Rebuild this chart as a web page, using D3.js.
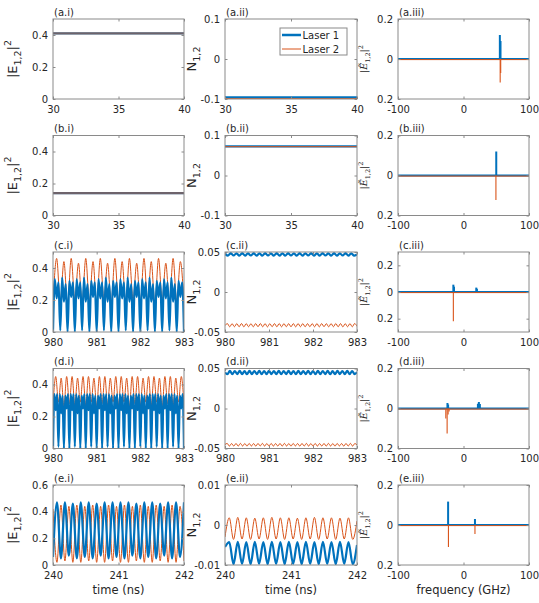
<!DOCTYPE html>
<html>
<head>
<meta charset="utf-8">
<script src="https://cdn.jsdelivr.net/npm/d3@7"></script>
<style>
    body { margin: 0; background: #fff; }
    text { font-family: "DejaVu Sans", sans-serif; fill: #262626; }
</style>
</head>
<body>
<svg id="fig" width="539" height="603"></svg>
<script>
// MATLAB default colours
const BLUE = '#0072BD';
const ORANGE = '#D95319';

// --- time spans (ns) and tick values ---
const tAB = [30, 40];
const tCD = [980, 983];
const tE = [240, 242];
const ticksAB = [30, 35, 40];
const ticksCD = [980, 981, 982, 983];
const ticksE = [240, 241, 242];
const ticksFreq = [-100, 0, 100];

// --- (a) steady state ---
const aI_blue = [0.41, 0.41];
const aI_orange = [0.41, 0.41];
const aII_blue = [-0.096, -0.096];
const aII_orange = [-0.099, -0.099];
// spectra: [frequency GHz, amplitude]
const aIII_blue = [[55.5, 0.12], [56.5, 0.09]];
const aIII_orange = [[56, -0.118], [56.8, -0.07]];

// --- (b) steady state ---
const bI_blue = [0.14, 0.14];
const bI_orange = [0.14, 0.14];
const bII_blue = [0.073, 0.073];
const bII_orange = [0.072, 0.072];
const bIII_blue = [[50, 0.12]];
const bIII_orange = [[49.5, -0.122]];

// --- (c) oscillating, extrema read along 980..983 ns ---
const cI_orange = [
    0.18, 0.46, 0.19, 0.44, 0.17, 0.46, 0.20, 0.43, 0.18, 0.46, 0.19, 0.44,
    0.17, 0.46, 0.20, 0.43, 0.18, 0.46, 0.19, 0.44, 0.17, 0.46, 0.20, 0.43,
    0.18, 0.46, 0.19, 0.44, 0.17, 0.46, 0.20, 0.43, 0.18, 0.46, 0.19, 0.44,
    0.17
];
const cI_blue = [
    0.00, 0.33, 0.21, 0.31, 0.01, 0.34, 0.19, 0.30, 0.00, 0.32, 0.22, 0.31,
    0.00, 0.33, 0.21, 0.31, 0.01, 0.34, 0.19, 0.30, 0.00, 0.32, 0.22, 0.31,
    0.00, 0.33, 0.21, 0.31, 0.01, 0.34, 0.19, 0.30, 0.00, 0.32, 0.22, 0.31,
    0.00, 0.33, 0.21, 0.31, 0.01, 0.34, 0.19, 0.30, 0.00, 0.32, 0.22, 0.31,
    0.00, 0.33, 0.21, 0.31, 0.01, 0.34, 0.19, 0.30, 0.00, 0.32, 0.22, 0.31,
    0.00, 0.33, 0.21, 0.31, 0.01, 0.34, 0.19, 0.30, 0.00, 0.32, 0.22, 0.31,
    0.00
];
const cII_blue = [
    0.0480, 0.0455, 0.0485, 0.0456, 0.0484, 0.0454, 0.0485, 0.0455, 0.0483, 0.0456,
    0.0485, 0.0455, 0.0484, 0.0454, 0.0485, 0.0456, 0.0484, 0.0455, 0.0485, 0.0454,
    0.0483, 0.0455, 0.0485, 0.0456, 0.0484, 0.0455, 0.0485, 0.0454, 0.0484, 0.0456,
    0.0485, 0.0455, 0.0484, 0.0455, 0.0485, 0.0456, 0.0483, 0.0454, 0.0485, 0.0455,
    0.0484, 0.0456, 0.0485, 0.0455, 0.0484, 0.0454, 0.0470
];
const cII_orange = [
    -0.0420, -0.0395, -0.0435, -0.0396, -0.0434, -0.0395, -0.0435, -0.0394, -0.0436, -0.0395,
    -0.0434, -0.0396, -0.0435, -0.0395, -0.0434, -0.0394, -0.0435, -0.0395, -0.0436, -0.0396,
    -0.0434, -0.0395, -0.0435, -0.0394, -0.0435, -0.0395, -0.0434, -0.0396, -0.0435, -0.0395,
    -0.0436, -0.0394, -0.0434, -0.0395, -0.0435, -0.0396, -0.0434, -0.0395, -0.0435, -0.0394,
    -0.0436, -0.0395, -0.0434, -0.0396, -0.0435, -0.0395, -0.0434, -0.0394, -0.0435, -0.0395,
    -0.0436, -0.0396, -0.0434, -0.0395, -0.0435, -0.0394, -0.0430
];
const cIII_blue = [[-15.5, 0.055], [-14.5, 0.04], [19.5, 0.033], [20.5, 0.024]];
const cIII_orange = [[-15.5, -0.22], [19.5, -0.006]];

// --- (d) oscillating ---
const dI_orange = [
    0.27, 0.45, 0.29, 0.44, 0.26, 0.45, 0.28, 0.45, 0.27, 0.44, 0.29, 0.45,
    0.27, 0.45, 0.29, 0.44, 0.26, 0.45, 0.28, 0.45, 0.27, 0.44, 0.29, 0.45,
    0.27, 0.45, 0.29, 0.44, 0.26, 0.45, 0.28, 0.45, 0.27, 0.44, 0.29, 0.45,
    0.27, 0.45, 0.29, 0.44, 0.26, 0.45, 0.28, 0.45, 0.27, 0.44, 0.29, 0.45,
    0.27
];
const dI_blue = [
    0.00, 0.34, 0.24, 0.34, 0.01, 0.34, 0.22, 0.33, 0.00, 0.33, 0.25, 0.34,
    0.00, 0.34, 0.24, 0.34, 0.01, 0.34, 0.22, 0.33, 0.00, 0.33, 0.25, 0.34,
    0.00, 0.34, 0.24, 0.34, 0.01, 0.34, 0.22, 0.33, 0.00, 0.33, 0.25, 0.34,
    0.00, 0.34, 0.24, 0.34, 0.01, 0.34, 0.22, 0.33, 0.00, 0.33, 0.25, 0.34,
    0.00, 0.34, 0.24, 0.34, 0.01, 0.34, 0.22, 0.33, 0.00, 0.33, 0.25, 0.34,
    0.00, 0.34, 0.24, 0.34, 0.01, 0.34, 0.22, 0.33, 0.00, 0.33, 0.25, 0.34,
    0.00, 0.34, 0.24, 0.34, 0.01, 0.34, 0.22, 0.33, 0.00, 0.33, 0.25, 0.34,
    0.00, 0.34, 0.24, 0.34, 0.01, 0.34, 0.22, 0.33, 0.00, 0.33, 0.25, 0.34,
    0.00
];
const dII_blue = [
    0.0450, 0.0429, 0.0470, 0.0428, 0.0469, 0.0430, 0.0470, 0.0429, 0.0468, 0.0428,
    0.0470, 0.0429, 0.0469, 0.0430, 0.0470, 0.0428, 0.0469, 0.0429, 0.0470, 0.0430,
    0.0468, 0.0429, 0.0470, 0.0428, 0.0469, 0.0430, 0.0470, 0.0429, 0.0469, 0.0428,
    0.0470, 0.0429, 0.0468, 0.0430, 0.0470, 0.0429, 0.0469, 0.0428, 0.0470, 0.0429,
    0.0469, 0.0430, 0.0470, 0.0428, 0.0468, 0.0429, 0.0470, 0.0430, 0.0469, 0.0429,
    0.0470, 0.0428, 0.0469, 0.0429, 0.0455
];
const dII_orange = [
    -0.0450, -0.0437, -0.0470, -0.0438, -0.0469, -0.0437, -0.0470, -0.0436, -0.0469, -0.0438,
    -0.0470, -0.0437, -0.0469, -0.0438, -0.0470, -0.0437, -0.0468, -0.0436, -0.0470, -0.0438,
    -0.0469, -0.0437, -0.0470, -0.0438, -0.0469, -0.0437, -0.0470, -0.0436, -0.0469, -0.0438,
    -0.0470, -0.0437, -0.0468, -0.0438, -0.0470, -0.0437, -0.0469, -0.0436, -0.0470, -0.0438,
    -0.0469, -0.0437, -0.0470, -0.0438, -0.0469, -0.0437, -0.0470, -0.0436, -0.0469, -0.0438,
    -0.0470, -0.0437, -0.0468, -0.0438, -0.0470, -0.0437, -0.0469, -0.0436, -0.0470, -0.0438,
    -0.0455
];
const dIII_blue = [[-24.5, 0.027], [-23.5, 0.02], [22, 0.024], [23.5, 0.032], [25, 0.022]];
const dIII_orange = [[-27, -0.05], [-25, -0.125], [-23.5, -0.03], [-22, -0.015]];

// --- (e) oscillating, 240..242 ns ---
const eI_blue = [
    0.06, 0.47, 0.05, 0.47, 0.07, 0.46, 0.05, 0.47, 0.06, 0.47, 0.05, 0.46,
    0.07, 0.47, 0.05, 0.47, 0.06, 0.47, 0.05, 0.47, 0.07, 0.46, 0.05, 0.47,
    0.06, 0.47, 0.05, 0.46, 0.07, 0.47, 0.05, 0.47, 0.06, 0.47
];
const eI_orange = [
    0.42, 0.02, 0.45, 0.03, 0.44, 0.02, 0.45, 0.02, 0.44, 0.03, 0.45, 0.02,
    0.44, 0.02, 0.45, 0.03, 0.44, 0.02, 0.45, 0.02, 0.44, 0.03, 0.45, 0.02,
    0.44, 0.02, 0.45, 0.03, 0.44, 0.02, 0.45, 0.02, 0.44, 0.03
];
const eII_orange = [
    -0.0030, 0.0018, -0.0036, 0.0019, -0.0035, 0.0018, -0.0036, 0.0017, -0.0035, 0.0018,
    -0.0036, 0.0019, -0.0035, 0.0018, -0.0036, 0.0018, -0.0035, 0.0017, -0.0036, 0.0018,
    -0.0035, 0.0019, -0.0036, 0.0018, -0.0035, 0.0018, -0.0036, 0.0017, -0.0035, 0.0018,
    -0.0036, 0.0010
];
const eII_blue = [
    -0.0055, -0.0043, -0.0098, -0.0042, -0.0097, -0.0043, -0.0098, -0.0042, -0.0097, -0.0043,
    -0.0098, -0.0042, -0.0097, -0.0043, -0.0098, -0.0042, -0.0097, -0.0043, -0.0098, -0.0042,
    -0.0097, -0.0043, -0.0098, -0.0042, -0.0097, -0.0043, -0.0098, -0.0042, -0.0097, -0.0043,
    -0.0098, -0.0050
];
const eIII_blue = [[-23.5, 0.117], [17.5, 0.03]];
const eIII_orange = [[-23, -0.11], [17.5, -0.045]];

// --- layout ---
const COL_X = [53, 225, 398];
const COL_W = [131, 132, 131];
const ROW_Y = [19, 135.5, 252, 368.5, 485];
const PH = 80;
const YLABEL_X = [17, 196, 367];
const rowNames = ['a', 'b', 'c', 'd', 'e'];
const colNames = ['i', 'ii', 'iii'];

const panels = [
    { row: 0, col: 0, span: tAB, xTicks: ticksAB, yDom: [0, 0.5], yTicks: [0, 0.2, 0.4], blue: aI_blue, orange: aI_orange, overlap: true },
    { row: 0, col: 1, span: tAB, xTicks: ticksAB, yDom: [-0.1, 0.1], yTicks: [-0.1, 0, 0.1], blue: aII_blue, orange: aII_orange, legend: true },
    { row: 0, col: 2, yDom: [-0.2, 0.2], yTicks: [-0.2, 0, 0.2], sBlue: aIII_blue, sOrange: aIII_orange },
    { row: 1, col: 0, span: tAB, xTicks: ticksAB, yDom: [0, 0.5], yTicks: [0, 0.2, 0.4], blue: bI_blue, orange: bI_orange, overlap: true },
    { row: 1, col: 1, span: tAB, xTicks: ticksAB, yDom: [-0.1, 0.1], yTicks: [-0.1, 0, 0.1], blue: bII_blue, orange: bII_orange },
    { row: 1, col: 2, yDom: [-0.2, 0.2], yTicks: [-0.2, 0, 0.2], sBlue: bIII_blue, sOrange: bIII_orange },
    { row: 2, col: 0, span: tCD, xTicks: ticksCD, yDom: [0, 0.5], yTicks: [0, 0.2, 0.4], blue: cI_blue, orange: cI_orange, orangeFirst: true },
    { row: 2, col: 1, span: tCD, xTicks: ticksCD, yDom: [-0.05, 0.05], yTicks: [-0.05, 0, 0.05], blue: cII_blue, orange: cII_orange },
    { row: 2, col: 2, yDom: [-0.3, 0.3], yTicks: [-0.2, 0, 0.2], sBlue: cIII_blue, sOrange: cIII_orange },
    { row: 3, col: 0, span: tCD, xTicks: ticksCD, yDom: [0, 0.5], yTicks: [0, 0.2, 0.4], blue: dI_blue, orange: dI_orange, orangeFirst: true },
    { row: 3, col: 1, span: tCD, xTicks: ticksCD, yDom: [-0.05, 0.05], yTicks: [-0.05, 0, 0.05], blue: dII_blue, orange: dII_orange },
    { row: 3, col: 2, yDom: [-0.2, 0.2], yTicks: [-0.2, 0, 0.2], sBlue: dIII_blue, sOrange: dIII_orange },
    { row: 4, col: 0, span: tE, xTicks: ticksE, yDom: [0, 0.6], yTicks: [0, 0.2, 0.4, 0.6], blue: eI_blue, orange: eI_orange, orangeFirst: true },
    { row: 4, col: 1, span: tE, xTicks: ticksE, yDom: [-0.01, 0.01], yTicks: [-0.01, 0, 0.01], blue: eII_blue, orange: eII_orange },
    { row: 4, col: 2, yDom: [-0.2, 0.2], yTicks: [-0.2, 0, 0.2], sBlue: eIII_blue, sOrange: eIII_orange }
];

const svg = d3.select('#fig');
const AXIS_GREY = '#8a8a8a';
const TICK_LEN = -2.5;

// evenly sampled series across the time span
function toPoints(values, span) {
    const n = values.length;
    return values.map((v, i) => ({ t: span[0] + (span[1] - span[0]) * i / (n - 1), v: v }));
}

function addYLabel(col, cy) {
    const x = YLABEL_X[col];
    const t = svg.append('text')
        .attr('transform', `translate(${x},${cy}) rotate(-90)`)
        .attr('text-anchor', 'middle');
    if (col === 0) {
        t.attr('font-size', 13);
        t.append('tspan').text('|E');
        t.append('tspan').attr('font-size', 9.5).attr('dy', 4).text('1,2');
        t.append('tspan').attr('dy', -4).text('|');
        t.append('tspan').attr('font-size', 9.5).attr('dy', -6).text('2');
    } else if (col === 1) {
        t.attr('font-size', 13);
        t.append('tspan').text('N');
        t.append('tspan').attr('font-size', 9.5).attr('dy', 4).text('1,2');
    } else {
        t.attr('font-size', 9.5).style('font-family', '"DejaVu Serif", serif');
        t.append('tspan').text('|');
        t.append('tspan').attr('font-style', 'italic').text('Ẽ');
        t.append('tspan').attr('font-size', 6.5).attr('dy', 2.5).text('1,2');
        t.append('tspan').attr('dy', -2.5).text('|');
        t.append('tspan').attr('font-size', 6.5).attr('dy', -4).text('2');
    }
}

panels.forEach((p, i) => {
    const x0 = COL_X[p.col], y0 = ROW_Y[p.row], w = COL_W[p.col];
    const g = svg.append('g').attr('transform', `translate(${x0},${y0})`);
    const xDom = p.col === 2 ? [-100, 100] : p.span;
    const xTicks = p.col === 2 ? ticksFreq : p.xTicks;
    const x = d3.scaleLinear().domain(xDom).range([0, w]);
    const y = d3.scaleLinear().domain(p.yDom).range([PH, 0]);

    const clipId = 'clip' + i;
    g.append('clipPath').attr('id', clipId)
        .append('rect').attr('width', w).attr('height', PH);
    const plot = g.append('g').attr('clip-path', `url(#${clipId})`);

    if (p.col < 2) {
        const line = d3.line().x(d => x(d.t)).y(d => y(d.v)).curve(d3.curveMonotoneX);
        const drawBlue = () => plot.append('path')
            .attr('d', line(toPoints(p.blue, p.span)))
            .attr('fill', 'none').attr('stroke', BLUE).attr('stroke-width', 2.2);
        const drawOrange = () => plot.append('path')
            .attr('d', line(toPoints(p.orange, p.span)))
            .attr('fill', 'none').attr('stroke', ORANGE)
            .attr('stroke-width', p.overlap ? 2.2 : 1)
            .attr('stroke-opacity', p.overlap ? 0.5 : 1);
        if (p.orangeFirst) { drawOrange(); drawBlue(); } else { drawBlue(); drawOrange(); }
    } else {
        plot.append('line')
            .attr('x1', 0).attr('x2', w).attr('y1', y(0)).attr('y2', y(0))
            .attr('stroke', BLUE).attr('stroke-width', 2.2);
        plot.selectAll('.stem-b').data(p.sBlue).enter().append('line')
            .attr('class', 'stem-b')
            .attr('x1', d => x(d[0])).attr('x2', d => x(d[0]))
            .attr('y1', y(0)).attr('y2', d => y(d[1]))
            .attr('stroke', BLUE).attr('stroke-width', 2);
        plot.append('line')
            .attr('x1', 0).attr('x2', w).attr('y1', y(0) + 0.6).attr('y2', y(0) + 0.6)
            .attr('stroke', ORANGE).attr('stroke-width', 1);
        plot.selectAll('.stem-o').data(p.sOrange).enter().append('line')
            .attr('class', 'stem-o')
            .attr('x1', d => x(d[0])).attr('x2', d => x(d[0]))
            .attr('y1', y(0)).attr('y2', d => y(d[1]))
            .attr('stroke', ORANGE).attr('stroke-width', 1.1);
    }

    // axes: inward ticks on all four sides, labels left and bottom
    const yFmt = p.col === 2 ? d => String(Math.abs(d)) : d => String(d);
    const axes = [
        g.append('g').attr('transform', `translate(0,${PH})`)
            .call(d3.axisBottom(x).tickValues(xTicks).tickSize(TICK_LEN).tickPadding(6.5).tickFormat(d => String(d))),
        g.append('g')
            .call(d3.axisTop(x).tickValues(xTicks).tickSize(TICK_LEN).tickFormat('')),
        g.append('g')
            .call(d3.axisLeft(y).tickValues(p.yTicks).tickSize(TICK_LEN).tickPadding(5).tickFormat(yFmt)),
        g.append('g').attr('transform', `translate(${w},0)`)
            .call(d3.axisRight(y).tickValues(p.yTicks).tickSize(TICK_LEN).tickFormat(''))
    ];
    axes.forEach(a => {
        a.attr('font-size', 10).attr('font-family', null);
        a.select('.domain').remove();
        a.selectAll('.tick line').attr('stroke', AXIS_GREY);
    });

    g.append('rect').attr('width', w).attr('height', PH)
        .attr('fill', 'none').attr('stroke', AXIS_GREY).attr('stroke-width', 1);

    g.append('text').attr('x', 1).attr('y', -3.5).attr('font-size', 10)
        .text(`(${rowNames[p.row]}.${colNames[p.col]})`);

    addYLabel(p.col, y0 + PH / 2);

    if (p.legend) {
        const lg = g.append('g').attr('transform', 'translate(55,9)');
        lg.append('rect').attr('width', 67).attr('height', 27)
            .attr('fill', '#fff').attr('stroke', AXIS_GREY).attr('stroke-width', 1);
        [['Laser 1', BLUE, 2.5], ['Laser 2', ORANGE, 1]].forEach((it, k) => {
            const ly = 7 + k * 14;
            lg.append('line').attr('x1', 2).attr('x2', 21).attr('y1', ly).attr('y2', ly)
                .attr('stroke', it[1]).attr('stroke-width', it[2]);
            lg.append('text').attr('x', 22.5).attr('y', ly + 3.7).attr('font-size', 10).text(it[0]);
        });
    }
});

// x-axis titles under the bottom row
const bottomY = ROW_Y[4] + PH + 29;
[['time (ns)', 0], ['time (ns)', 1], ['frequency (GHz)', 2]].forEach(([label, col]) => {
    svg.append('text')
        .attr('x', COL_X[col] + COL_W[col] / 2)
        .attr('y', bottomY)
        .attr('text-anchor', 'middle')
        .attr('font-size', 11.5)
        .text(label);
});
</script>
</body>
</html>
